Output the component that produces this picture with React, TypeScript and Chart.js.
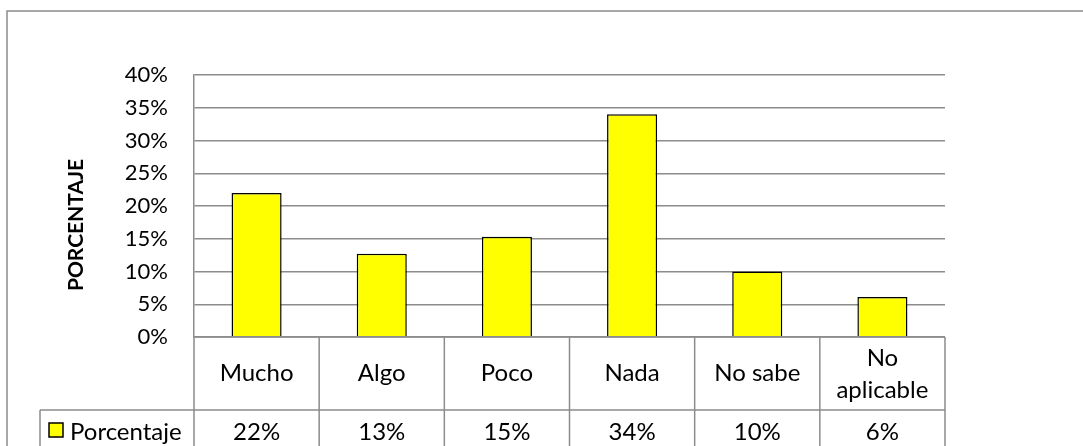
import React, { useEffect, useRef } from "react";
import { Chart, registerables } from "chart.js";

Chart.register(...registerables);

const categories = ["Mucho", "Algo", "Poco", "Nada", "No sabe", "No aplicable"];
const values = [0.22, 0.127, 0.153, 0.34, 0.1, 0.061];
const tableValues = ["22%", "13%", "15%", "34%", "10%", "6%"];
const seriesName = "Porcentaje";
const axisTitle = "PORCENTAJE";

const FONT = "Lato";
const FS = 24;
const TICK_FS = 22;
const GRID = "#8c8c8c";

const tablePlugin = {
  id: "dataTable",
  afterDraw(chart: any) {
    const { ctx, chartArea } = chart;
    const { left, right, bottom } = chartArea;
    const H = chart.height;
    const n = categories.length;
    const colW = (right - left) / n;
    const row1 = bottom + 73;
    const keyLeft = 40;
    ctx.save();
    // outer chart border
    ctx.strokeStyle = GRID;
    ctx.lineWidth = 1.5;
    ctx.beginPath();
    ctx.moveTo(7, H + 5);
    ctx.lineTo(7, 11);
    ctx.lineTo(chart.width + 5, 11);
    ctx.stroke();

    // table lines
    ctx.beginPath();
    ctx.moveTo(left, bottom);
    ctx.lineTo(right, bottom);
    for (let i = 0; i <= n; i++) {
      const x = left + i * colW;
      ctx.moveTo(x, bottom);
      ctx.lineTo(x, H + 5);
    }
    ctx.moveTo(keyLeft, row1);
    ctx.lineTo(right, row1);
    ctx.moveTo(keyLeft, row1);
    ctx.lineTo(keyLeft, H + 5);
    ctx.stroke();

    // texts
    ctx.fillStyle = "#000";
    ctx.font = `${FS}px ${FONT}`;
    ctx.textAlign = "center";
    ctx.textBaseline = "middle";
    const rowMid = (bottom + row1) / 2;
    categories.forEach((c, i) => {
      const cx = left + (i + 0.5) * colW;
      const w = ctx.measureText(c).width;
      if (w > colW - 20 && c.includes(" ")) {
        const parts = c.split(" ");
        ctx.fillText(parts[0], cx, rowMid - 15);
        ctx.fillText(parts.slice(1).join(" "), cx, rowMid + 17);
      } else {
        ctx.fillText(c, cx, rowMid);
      }
      ctx.fillText(tableValues[i], cx, row1 + 22);
    });

    // legend key
    ctx.fillStyle = "#ffff00";
    ctx.strokeStyle = "#000";
    ctx.lineWidth = 1.5;
    ctx.fillRect(49, row1 + 13, 14, 14);
    ctx.strokeRect(49, row1 + 13, 14, 14);
    ctx.fillStyle = "#000";
    ctx.textAlign = "left";
    ctx.fillText(seriesName, 70, row1 + 22);

    // y axis title
    ctx.save();
    ctx.translate(76, 225);
    ctx.rotate(-Math.PI / 2);
    ctx.textAlign = "center";
    ctx.font = `bold 21px ${FONT}`;
    ctx.fillText(axisTitle, 0, 0);
    ctx.restore();
    ctx.restore();
  },
};

export default function App() {
  const ref = useRef<HTMLCanvasElement>(null);
  useEffect(() => {
    document.body.style.margin = "0";
    const chart = new Chart(ref.current!, {
      type: "bar",
      data: {
        labels: categories,
        datasets: [
          {
            label: seriesName,
            data: values,
            backgroundColor: "#ffff00",
            borderColor: "#000000",
            borderWidth: 1.5,
            barPercentage: 0.4,
            categoryPercentage: 1,
          },
        ],
      },
      options: {
        responsive: false,
        animation: false,
        layout: { padding: { left: 0, top: 75, right: 1083 - 945, bottom: 446 - 337 } },
        plugins: { legend: { display: false }, tooltip: { enabled: false } },
        scales: {
          x: { display: false },
          y: {
            min: 0,
            max: 0.4,
            afterFit: (s: any) => {
              s.width = 194;
            },
            ticks: {
              stepSize: 0.05,
              padding: 26,
              color: "#000",
              font: { family: FONT, size: TICK_FS },
              callback: (v: any) => Math.round(Number(v) * 100) + "%",
            },
            grid: { color: GRID, lineWidth: 1.5, drawTicks: false },
            border: { color: GRID, width: 1.5 },
          },
        },
      },
      plugins: [tablePlugin],
    });
    return () => chart.destroy();
  }, []);
  return <canvas ref={ref} width={1083} height={446} style={{ display: "block" }} />;
}
